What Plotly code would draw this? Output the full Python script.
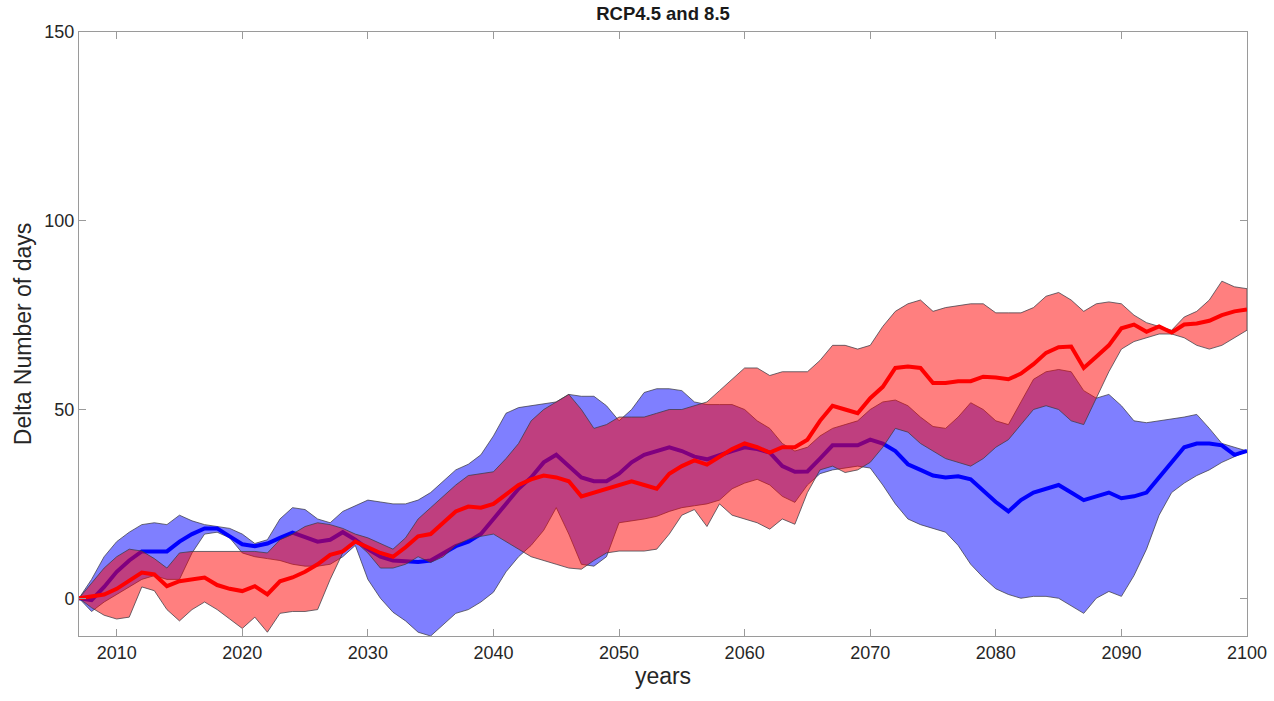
import plotly.graph_objects as go

years = list(range(2007, 2101))

# RCP4.5 (blue)
blue_mean = [0, -0.5, 3, 7,
             10, 12.4, 12.4, 12.4, 15, 17, 18.5, 18.5, 16.4, 14.3,
             13.8, 14.5, 16, 17.4, 16.2, 15, 15.5, 17.5, 15.5, 13,
             11, 10, 9.8, 9.6, 10, 12, 13.8, 15, 17, 21,
             25, 29, 32, 36, 38, 35, 32, 31, 31, 33,
             36, 38, 39, 40, 39, 37.5, 36.8, 38, 39, 40,
             39.5, 38.6, 35, 33.5, 33.6, 37, 40.5, 40.5, 40.5, 42,
             41, 39, 35.5, 34, 32.5, 32, 32.3, 31.5, 28.5, 25.5,
             23, 26, 28, 29, 30, 28, 26, 27, 28, 26.5,
             27, 28, 32, 36, 40, 41, 41, 40.5, 38, 39]
blue_upper = [0, 5, 11, 15,
              17.5, 19.5, 20, 19.5, 22, 20.5, 19.5, 19, 18.5, 17,
              14.5, 15.5, 21, 24, 23.5, 21, 20, 23, 24.5, 26,
              25.5, 25, 25, 26, 28, 31, 34, 35.5, 38, 43,
              49, 50.5, 51, 51.5, 52, 54, 53.5, 53.5, 51, 47,
              50, 54.5, 55.5, 55.5, 55, 52, 51.3, 51.3, 51.3, 50,
              47, 45, 41, 39, 40, 43, 45, 46, 47, 50,
              52, 52.5, 51, 48, 45.5, 45, 48, 51.8, 50, 47,
              46, 52, 58, 60, 60.6, 60, 55, 53, 54, 51,
              47, 46.5, 47, 47.5, 48, 48.7, 45, 41, 40, 39]
blue_lower = [0, -3.5, -1, 1,
              3, 5, 6, 5, 5, 12, 17, 17.5, 16, 12,
              11, 10.5, 10, 9, 8.5, 8.5, 9, 11, 14, 5,
              0, -3.7, -6, -9, -10, -7, -4, -3, -1, 1.6,
              7, 11, 14, 18, 24, 17, 9, 8.5, 11, 20,
              20.5, 21, 21.7, 23, 24, 24.5, 25, 26, 29, 30.5,
              31.5, 30, 27, 25.4, 30, 33, 34, 34.5, 35, 34.5,
              30, 25, 21, 19.5, 18.5, 17.5, 14, 9, 5.5, 2.5,
              1, 0, 0.5, 0.5, 0, -2, -4, 0, 1.8, 0.5,
              6, 13, 22, 28, 30.5, 32.5, 34, 36, 37.5, 39]

# RCP8.5 (red)
red_mean = [0, 0.5, 1, 2.5,
            4.5, 6.8, 6.3, 3.2, 4.5, 5, 5.5, 3.5, 2.5, 1.9,
            3.2, 1, 4.5, 5.5, 7, 9, 11.5, 12.4, 15, 13.5,
            12, 11, 13.5, 16.4, 17, 20, 23, 24.3, 24, 25,
            27.5, 30, 31.5, 32.5, 32, 31, 27, 28, 29, 30,
            31, 30, 29, 33, 35, 36.5, 35.4, 37.5, 39.5, 41,
            40, 38.6, 40, 40, 42, 47, 51, 50, 49, 53,
            56, 61, 61.4, 61, 57, 57, 57.5, 57.5, 58.7, 58.5,
            58, 59.5, 62, 65, 66.5, 66.7, 61, 64, 67, 71.5,
            72.5, 70.6, 72, 70.4, 72.5, 72.8, 73.5, 75, 76, 76.5]
red_upper = [0, 4, 8, 11,
             13, 12.5, 10.5, 8, 12, 12.4, 12.4, 12.4, 12.4, 12.4,
             12.4, 12, 15.5, 17, 19, 20, 19.5, 18.5, 17, 16,
             14.5, 13, 16, 21, 24, 27, 30, 32.5, 33, 33.5,
             37, 41, 47, 50, 52, 54, 50, 45, 46, 48,
             48, 48, 49, 50, 50, 51, 52, 55, 58, 61,
             61, 59, 60, 60, 60, 63, 67, 67, 66, 67,
             72, 76, 78, 79, 76, 77, 77.5, 78, 78, 75.6,
             75.6, 75.6, 77, 80, 81, 79, 76, 78, 78.5, 78,
             75, 73, 72, 71, 74.5, 76, 79, 84, 82.5, 82]
red_lower = [0, -2.5, -4.5, -5.5,
             -5, 3, 2, -3, -6, -3, -1, -3, -5.5, -8,
             -5, -9, -4, -3.5, -3.5, -3, 5, 12, 15, 12,
             8, 8, 9, 11, 9.5, 11, 14, 15.6, 16.4, 17,
             15, 13, 11, 10, 9, 8, 7.7, 10, 12, 12.5,
             12.5, 12.5, 13, 17, 22, 23.5, 19, 25, 22, 21,
             20, 18.3, 21, 19.6, 28, 34, 35, 33.3, 34, 36,
             40, 45, 44, 41, 39, 37, 36, 35, 37, 40,
             42, 46, 50, 51, 50, 47, 46, 53, 60, 66,
             68, 69, 70, 70, 69, 67, 66, 67, 69, 71]

x_ticks = list(range(2010, 2101, 10))
y_ticks = [0, 50, 100, 150]

edge = "rgba(60,60,70,0.75)"
fig = go.Figure()
fig.add_trace(go.Scatter(x=years + years[::-1], y=blue_upper + blue_lower[::-1],
                         fill="toself", fillcolor="rgba(0,0,255,0.5)", mode="lines",
                         line=dict(color=edge, width=1), hoverinfo="skip", showlegend=False))
fig.add_trace(go.Scatter(x=years, y=blue_mean, mode="lines",
                         line=dict(color="#0000ff", width=4), showlegend=False))
fig.add_trace(go.Scatter(x=years + years[::-1], y=red_upper + red_lower[::-1],
                         fill="toself", fillcolor="rgba(255,0,0,0.5)", mode="lines",
                         line=dict(color=edge, width=1), hoverinfo="skip", showlegend=False))
fig.add_trace(go.Scatter(x=years, y=red_mean, mode="lines",
                         line=dict(color="#ff0000", width=4), showlegend=False))

axis_col = "#9a9a9a"
font_fam = "Liberation Sans, Arial, sans-serif"
fig.update_layout(
    width=1274, height=701,
    margin=dict(l=79, r=27, t=32, b=65, autoexpand=False),
    paper_bgcolor="white", plot_bgcolor="white",
    font=dict(family=font_fam, color="#262626"),
    title=dict(text="<b>RCP4.5 and 8.5</b>", x=0.5, xref="paper", xanchor="center",
               y=1 - 14 / 701, yref="container", yanchor="middle",
               font=dict(size=18.5, color="#1a1a1a", family=font_fam)),
)
fig.update_xaxes(range=[2007, 2100], tickvals=x_ticks, ticks="inside", ticklen=7,
                 tickcolor=axis_col, showline=True, linecolor=axis_col, linewidth=1,
                 mirror="ticks", showgrid=False, zeroline=False, automargin=False,
                 tickfont=dict(size=18, color="#262626"),
                 title=dict(text="years", font=dict(size=23, color="#262626"), standoff=4))
fig.update_yaxes(range=[-10, 150], tickvals=y_ticks, ticks="inside", ticklen=7,
                 tickcolor=axis_col, showline=True, linecolor=axis_col, linewidth=1,
                 mirror="ticks", showgrid=False, zeroline=False, automargin=False,
                 tickfont=dict(size=18, color="#262626"),
                 title=dict(text="Delta Number of days", font=dict(size=23, color="#262626"), standoff=6))

fig.write_html("out.html", config={"displayModeBar": False},
               post_script="document.body.style.margin='0';")
